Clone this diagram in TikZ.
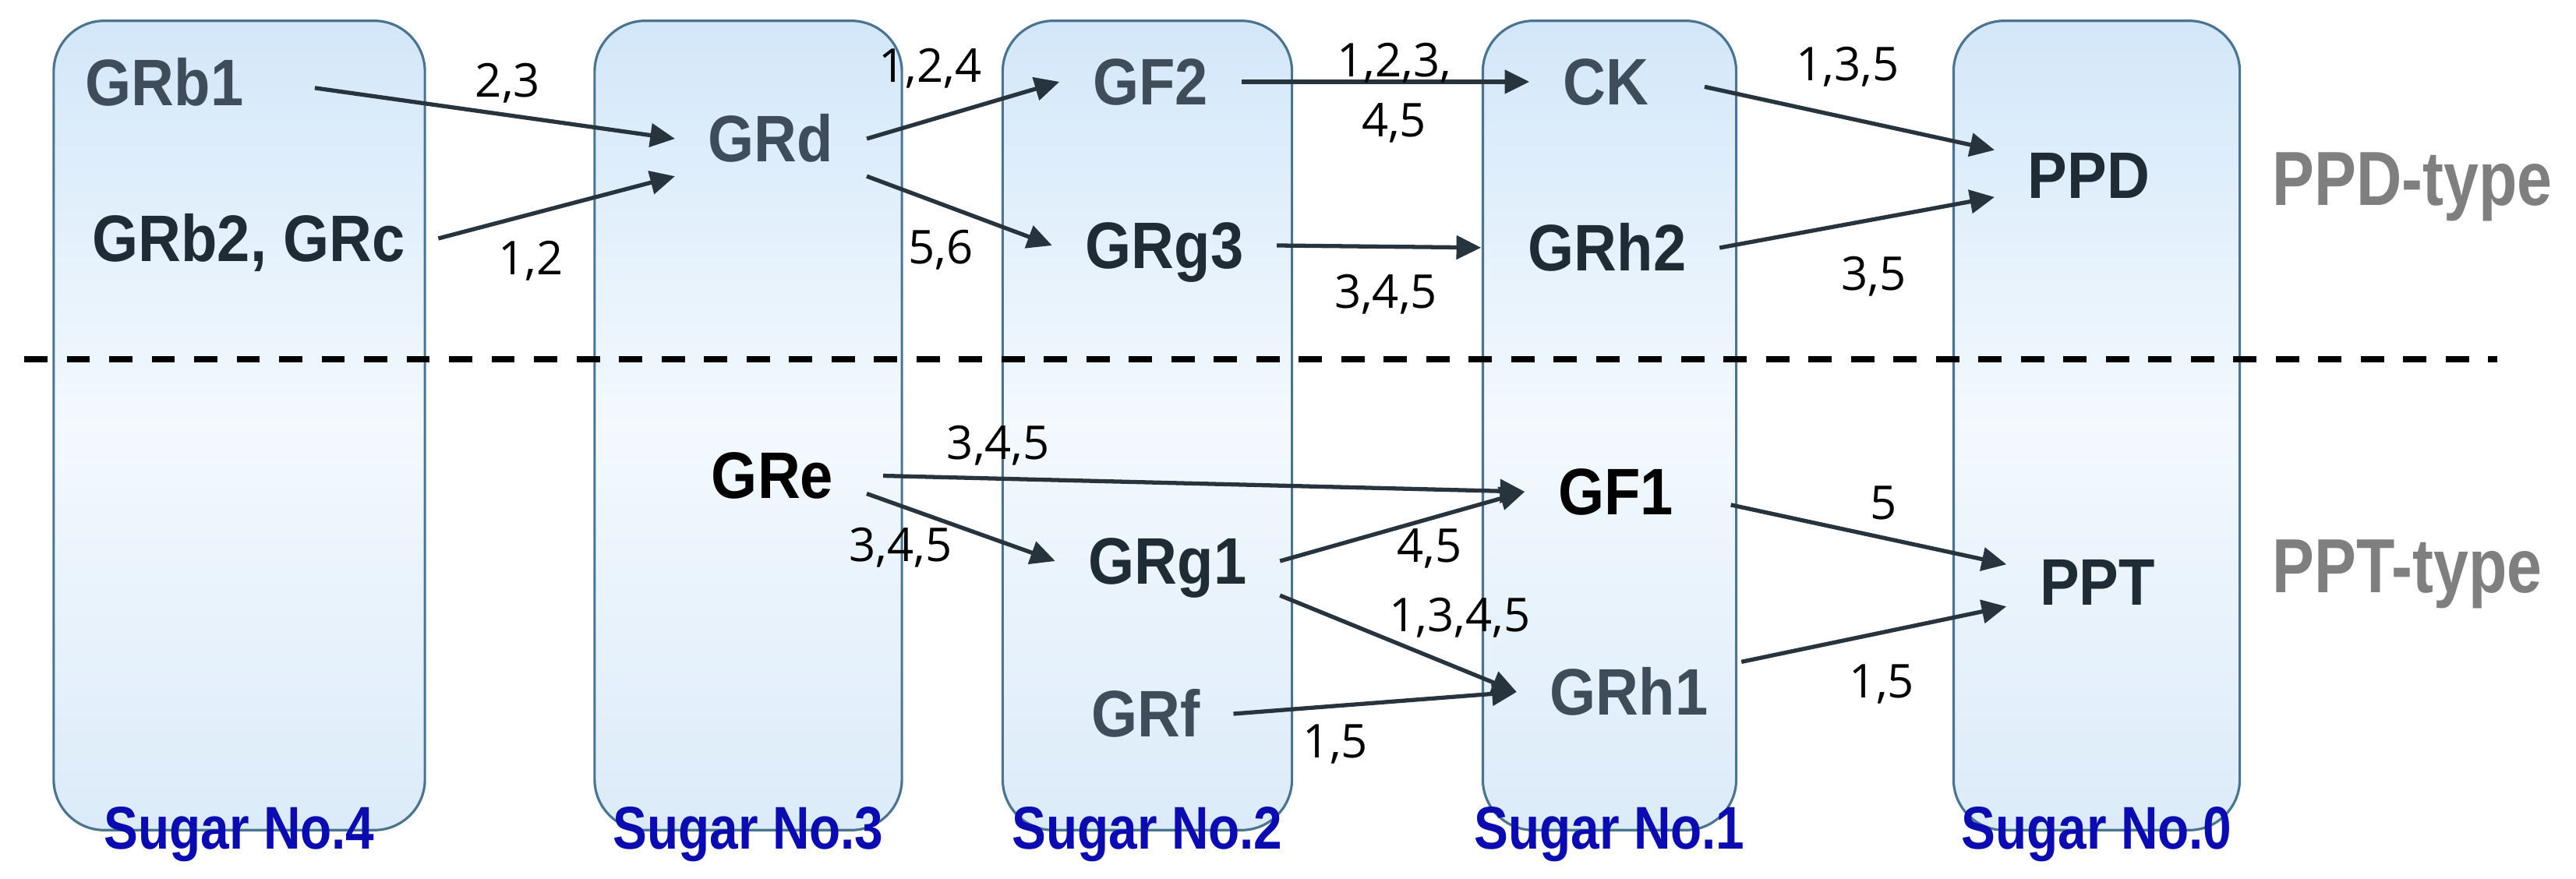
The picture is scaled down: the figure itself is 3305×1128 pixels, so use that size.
\documentclass[tikz,border=0pt]{standalone}
\usepackage{fontspec}
\setmainfont{Liberation Sans}
\newfontfamily\nodeFont[FakeStretch=0.90]{Liberation Sans}
\newfontfamily\sugarFont[FakeStretch=0.85]{Liberation Sans}
\newfontfamily\typeFont[FakeStretch=0.82]{Liberation Sans}
\newfontfamily\labelFont{Open Sans}
\usetikzlibrary{arrows.meta, positioning}
\definecolor{colBorder}{HTML}{4A7490}
\definecolor{colTop}{HTML}{D3E7F9}
\definecolor{colMid}{HTML}{F3F9FE}
\definecolor{colBottom}{HTML}{DCEBF9}
\definecolor{colGlyGray}{HTML}{3E4D59}
\definecolor{colGlyDark}{HTML}{1F2C36}
\definecolor{colSugar}{HTML}{0B0BAF}
\definecolor{colType}{HTML}{7F7F7F}
\definecolor{colArrow}{HTML}{27333D}
\tikzset{
  sugarColumn/.style={
    draw=colBorder, line width=0.9pt, rounded corners=0.65cm,
    top color=colTop, bottom color=colBottom, middle color=colMid,
    minimum height=10.38cm, inner sep=0pt
  },
  glyBase/.style={
    font=\nodeFont\fontsize{24}{28}\selectfont\bfseries,
    inner xsep=12pt, inner ysep=5pt, text height=17pt, text depth=0pt
  },
  glyGray/.style={glyBase, text=colGlyGray},
  glyDark/.style={glyBase, text=colGlyDark},
  glyBlack/.style={glyBase, text=black},
  sugarLabel/.style={font=\sugarFont\fontsize{22}{26}\selectfont\bfseries,
    text=colSugar, inner sep=0pt, text height=15.6pt, text depth=0pt},
  typeLabel/.style={font=\typeFont\fontsize{28}{32}\selectfont\bfseries,
    text=colType, inner sep=0pt, text height=19.8pt, text depth=0pt, anchor=west},
  convArrow/.style={-{Triangle[length=9pt,width=8.5pt]}, line width=1.5pt, colArrow},
  convLabel/.style={font=\labelFont\fontsize{17}{20}\selectfont, text=black,
    inner sep=0pt, text height=12.2pt, text depth=0pt},
  splitLine/.style={line width=2.3pt, black, dash pattern=on 8.5pt off 7pt},
}
\begin{document}
\begin{tikzpicture}[x=0.01cm, y=-0.01cm]
  \useasboundingbox (0,0) rectangle (3305,1128);

  \node[sugarColumn, minimum width=4.76cm] (col4) at (307,546) {};
  \node[sugarColumn, minimum width=3.94cm] (col3) at (960,546) {};
  \node[sugarColumn, minimum width=3.71cm] (col2) at (1472,546) {};
  \node[sugarColumn, minimum width=3.25cm] (col1) at (2065,546) {};
  \node[sugarColumn, minimum width=3.67cm] (col0) at (2690,546) {};

  \node[sugarLabel, yshift=1.5pt] (sugar4) at (col4.south) {Sugar No.4};
  \node[sugarLabel, yshift=1.5pt] (sugar3) at (col3.south) {Sugar No.3};
  \node[sugarLabel, yshift=1.5pt] (sugar2) at (col2.south) {Sugar No.2};
  \node[sugarLabel, yshift=1.5pt] (sugar1) at (col1.south) {Sugar No.1};
  \node[sugarLabel, yshift=1.5pt] (sugar0) at (col0.south) {Sugar No.0};

  \draw[splitLine] (31,461) -- (3204,461);

  \node[glyGray] (grb1) at (211,106) {GRb1};
  \node[glyDark] (grbc) at (319,306) {GRb2, GRc};
  \node[glyGray] (grd) at (989,178) {GRd};
  \node[glyGray] (gf2) at (1476,105) {GF2};
  \node[glyDark] (grg3) at (1494,315) {GRg3};
  \node[glyGray] (ck) at (2060,105) {CK};
  \node[glyDark] (grh2) at (2062,318) {GRh2};
  \node[glyDark] (ppd) at (2680,225) {PPD};
  \node[glyBlack] (gre) at (991,610) {GRe};
  \node[glyDark] (grg1) at (1498,720) {GRg1};
  \node[glyBlack] (gf1) at (2073,631) {GF1};
  \node[glyGray] (grf) at (1470,916) {GRf};
  \node[glyGray] (grh1) at (2090,888) {GRh1};
  \node[glyDark] (ppt) at (2691,747) {PPT};

  \node[typeLabel] (ppdType) at (2915,229) {PPD-type};
  \node[typeLabel] (pptType) at (2915,726) {PPT-type};

  \draw[convArrow, shorten <=14pt] (grb1.east) -- node[convLabel, pos=.58, above=6pt] {2,3} (grd.west);
  \draw[convArrow] (grbc.east) -- node[convLabel, pos=.39, below=9pt] {1,2} (grd.south west);
  \draw[convArrow] (grd.east) -- node[convLabel, pos=.33, above=13pt] {1,2,4} (gf2.west);
  \draw[convArrow] (grd.south east) -- node[convLabel, pos=.4, below=9pt] {5,6} (grg3.west);
  \draw[convArrow] (gf2.east) -- node[convLabel, pos=.53, above=1pt] {1,2,3,}
    node[convLabel, pos=.53, below=7pt] {4,5} (ck.west);
  \draw[convArrow, shorten >=5pt] (grg3.east) -- node[convLabel, pos=.5, below=9.5pt] {3,4,5} (grh2.west);
  \draw[convArrow, shorten <=8.5pt] (ck.east) -- node[convLabel, pos=.53, above=13pt] {1,3,5} (ppd.165);
  \draw[convArrow] (grh2.east) -- node[convLabel, pos=.56, below=13pt] {3,5} (ppd.193);
  \draw[convArrow, shorten <=6pt] (gre.east) -- node[convLabel, pos=.2, above=6.4pt] {3,4,5} (gf1.west);
  \draw[convArrow] (gre.-11) -- node[convLabel, pos=.18, below=7.5pt] {3,4,5} (grg1.west);
  \draw[convArrow] (grg1.east) -- node[convLabel, pos=.61, below=3pt] {4,5} (gf1.west);
  \draw[convArrow] (grg1.-17) -- node[convLabel, pos=.76, above=12.7pt] {1,3,4,5} (grh1.west);
  \draw[convArrow] (grf.east) -- node[convLabel, pos=.36, below=6pt] {1,5} (grh1.west);
  \draw[convArrow, shorten <=9pt] (gf1.-5) -- node[convLabel, pos=.59, above=6pt] {5} (ppt.169);
  \draw[convArrow] (grh1.15) -- node[convLabel, pos=.53, below=11pt] {1,5} (ppt.195);
\end{tikzpicture}
\end{document}
